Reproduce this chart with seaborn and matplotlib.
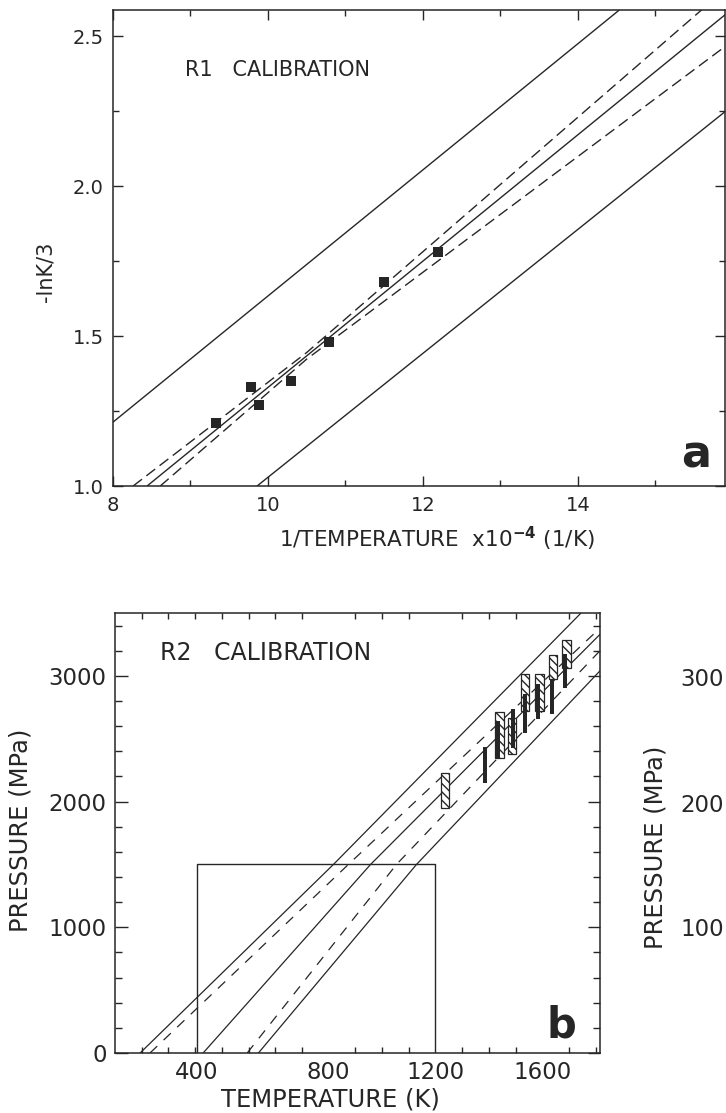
import matplotlib
matplotlib.use("Agg")
import matplotlib.pyplot as plt
import numpy as np
import pandas as pd
import seaborn as sns
from matplotlib.ticker import FixedLocator, NullFormatter, FixedFormatter

sns.set_theme(style="ticks")
plt.rcParams["font.family"] = ["DejaVu Sans"]
plt.rcParams["mathtext.default"] = "regular"

INK = "#262626"

# ---------------- Panel a : R1 calibration ----------------
r1_inv_temp = [9.33, 9.78, 9.89, 10.30, 10.79, 11.50, 12.19]
r1_lnk3 = [1.211, 1.329, 1.270, 1.350, 1.479, 1.681, 1.779]

a_fit_x, a_fit_y = [8.44, 15.91], [1.0, 2.573]
a_hi_x, a_hi_y = [8.0, 14.55], [1.213, 2.59]
a_lo_x, a_lo_y = [9.86, 15.91], [1.0, 2.25]
a_dhi_x, a_dhi_y = [8.26, 10.5, 15.61], [1.0, 1.445, 2.59]
a_dlo_x, a_dlo_y = [8.61, 10.5, 15.91], [1.0, 1.423, 2.467]

a_xticks = [8, 10, 12, 14]
a_xticklabels = ["8", "10", "12", "14"]
a_yticks = [1.0, 1.5, 2.0, 2.5]
a_yticklabels = ["1.0", "1.5", "2.0", "2.5"]

# ---------------- Panel b : R2 calibration ----------------
b_hi_T, b_hi_P = [94, 818, 1745], [0, 1500, 3500]
b_dhi_T, b_dhi_P = [131, 874, 1816], [0, 1500, 3380]
b_fit_T, b_fit_P = [330, 957, 1816], [0, 1500, 3330]
b_dlo_T, b_dlo_P = [495, 1054, 1816], [0, 1500, 3200]
b_lo_T, b_lo_P = [537, 1129, 1816], [0, 1500, 3040]

box_T = [307, 307, 1200, 1200]
box_P = [0, 1500, 1500, 0]

hatch_T = [1235, 1439, 1486, 1535, 1590, 1640, 1690]
hatch_lo = [1952, 2350, 2381, 2722, 2720, 2976, 3063]
hatch_hi = [2230, 2714, 2667, 3016, 3015, 3167, 3286]

bar_T = [1385, 1433, 1490, 1535, 1584, 1636, 1685]
bar_lo = [2151, 2349, 2429, 2548, 2659, 2698, 2905]
bar_hi = [2437, 2643, 2738, 2857, 2937, 2976, 3175]

b_xtick_pos = [307, 800, 1200, 1600]
b_xticklabels = ["400", "800", "1200", "1600"]
b_yticks = [0, 1000, 2000, 3000]
b_yticklabels = ["0", "1000", "2000", "3000"]

# visible fragments of the cropped neighbouring panel
side_labels = ["300", "200", "100"]
side_label_y = [679, 805, 929]

W, H = 726, 1113
fig = plt.figure(figsize=(W / 100, H / 100), dpi=100)
fig.patch.set_facecolor("white")


def fx(px):
    return px / W


def fy(py):
    return 1 - py / H


def style_axes(ax):
    ax.set_facecolor("white")
    for s in ax.spines.values():
        s.set_visible(True)
        s.set_color(INK)
        s.set_linewidth(1.1)
    ax.grid(False)


# ---------- panel a ----------
axa = fig.add_axes([fx(113), fy(486), (725 - 113) / W, (486 - 10) / H])
style_axes(axa)
sol = dict(color=INK, lw=1.0, estimator=None, sort=False, ax=axa, legend=False)
sns.lineplot(x=a_fit_x, y=a_fit_y, **sol)
sns.lineplot(x=a_hi_x, y=a_hi_y, **sol)
sns.lineplot(x=a_lo_x, y=a_lo_y, **sol)
sns.lineplot(x=a_dhi_x, y=a_dhi_y, linestyle=(0, (8, 4)), **sol)
sns.lineplot(x=a_dlo_x, y=a_dlo_y, linestyle=(0, (8, 4)), **sol)
sns.scatterplot(x=r1_inv_temp, y=r1_lnk3, marker="s", s=42, color=INK,
                linewidth=0, ax=axa, zorder=5, legend=False)
axa.set_xlim(8, 15.9)
axa.set_ylim(1.0, 2.587)
axa.xaxis.set_major_locator(FixedLocator(a_xticks))
axa.xaxis.set_major_formatter(FixedFormatter(a_xticklabels))
axa.xaxis.set_minor_locator(FixedLocator([9, 11, 13, 15]))
axa.yaxis.set_major_locator(FixedLocator(a_yticks))
axa.yaxis.set_major_formatter(FixedFormatter(a_yticklabels))
axa.yaxis.set_minor_locator(FixedLocator([1.25, 1.75, 2.25]))
axa.tick_params(which="both", direction="in", top=True, right=True,
                color=INK, labelcolor=INK, labelsize=14)
axa.tick_params(which="major", length=7.5, width=1.0)
axa.tick_params(which="minor", length=4, width=1.0)
axa.tick_params(axis="x", pad=7)
axa.tick_params(axis="y", pad=6.5)
axa.set_xlabel("")
axa.set_ylabel("")

fig.text(fx(437), fy(539), r"1/TEMPERATURE  x10$^{\mathbf{-4}}$ (1/K)",
         ha="center", va="center", fontsize=15.5, color=INK)
fig.text(fx(46), fy(272), "-lnK/3", rotation=90, ha="center", va="center",
         fontsize=15, color=INK)
fig.text(fx(185), fy(70), "R1   CALIBRATION", ha="left", va="center",
         fontsize=15, color=INK)
fig.text(fx(711), fy(467), "a", ha="right", va="baseline", fontsize=32,
         fontweight="bold", color=INK)

# ---------- panel b ----------
axb = fig.add_axes([fx(115), fy(1053), (600 - 115) / W, (1053 - 613) / H])
style_axes(axb)
solb = dict(color=INK, lw=0.9, estimator=None, sort=False, ax=axb, legend=False)
sns.lineplot(x=b_hi_T, y=b_hi_P, **solb)
sns.lineplot(x=b_fit_T, y=b_fit_P, **solb)
sns.lineplot(x=b_lo_T, y=b_lo_P, **solb)
sns.lineplot(x=b_dhi_T, y=b_dhi_P, linestyle=(0, (8, 7)), **solb)
sns.lineplot(x=b_dlo_T, y=b_dlo_P, linestyle=(0, (8, 7)), **solb)
sns.lineplot(x=box_T, y=box_P, color=INK, lw=1.0, estimator=None, sort=False,
             ax=axb, legend=False)

hatch_h = [h - l for h, l in zip(hatch_hi, hatch_lo)]
axb.bar(hatch_T, hatch_h, bottom=hatch_lo, width=32, facecolor="white",
        edgecolor=INK, linewidth=0.9, hatch="\\\\\\\\", zorder=3)
bar_h = [h - l for h, l in zip(bar_hi, bar_lo)]
axb.bar(bar_T, bar_h, bottom=bar_lo, width=15, color=INK, linewidth=0, zorder=4)

axb.set_xlim(0, 1816)
axb.set_ylim(0, 3500)
axb.xaxis.set_major_locator(FixedLocator(b_xtick_pos))
axb.xaxis.set_major_formatter(FixedFormatter(b_xticklabels))
axb.xaxis.set_minor_locator(FixedLocator(list(range(100, 1801, 100))))
axb.yaxis.set_major_locator(FixedLocator(b_yticks))
axb.yaxis.set_major_formatter(FixedFormatter(b_yticklabels))
axb.yaxis.set_minor_locator(FixedLocator([200, 400, 600, 800, 1200, 1400, 1600,
                                          1800, 2200, 2400, 2600, 2800, 3200, 3400]))
axb.tick_params(which="both", direction="in", top=True, right=True,
                color=INK, labelcolor=INK, labelsize=16.5)
axb.tick_params(axis="x", which="major", length=0)
axb.tick_params(axis="x", which="minor", length=4.5, width=1.0)
axb.tick_params(axis="y", which="major", length=9, width=1.0)
axb.tick_params(axis="y", which="minor", length=5, width=1.0)
axb.tick_params(axis="x", pad=6)
axb.tick_params(axis="y", pad=6)
axb.set_xlabel("")
axb.set_ylabel("")

fig.text(fx(330), fy(1100), "TEMPERATURE (K)", ha="center", va="center",
         fontsize=17.5, color=INK)
fig.text(fx(21), fy(830), "PRESSURE (MPa)", rotation=90, ha="center",
         va="center", fontsize=17.5, color=INK)
fig.text(fx(160), fy(653), "R2   CALIBRATION", ha="left", va="center",
         fontsize=17, color=INK)
fig.text(fx(576), fy(1038), "b", ha="right", va="baseline", fontsize=30,
         fontweight="bold", color=INK)

for lab, yy in zip(side_labels, side_label_y):
    fig.text(fx(724), fy(yy), lab, ha="right", va="center", fontsize=16.5,
             color=INK)
fig.text(fx(656), fy(847), "PRESSURE (MPa)", rotation=90, ha="center",
         va="center", fontsize=17.5, color=INK)

fig.savefig("out.png", dpi=100, facecolor="white")
